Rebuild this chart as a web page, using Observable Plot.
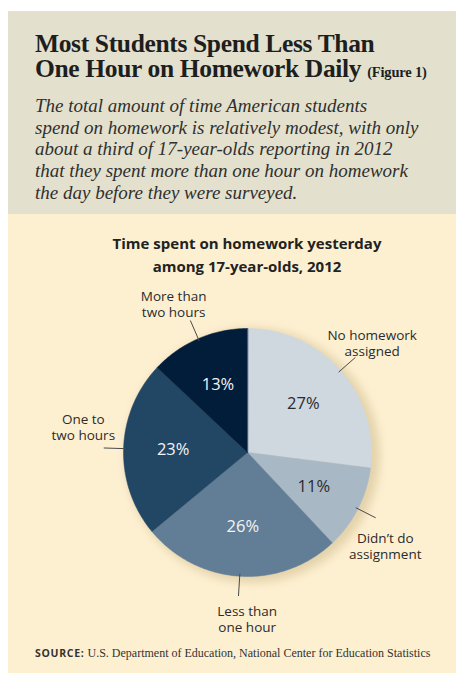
<!DOCTYPE html>
<html>
<head>
<meta charset="utf-8">
<script src="https://cdn.jsdelivr.net/npm/d3@7"></script>
<script src="https://cdn.jsdelivr.net/npm/@observablehq/plot@0.6"></script>
<style>
  html, body { margin: 0; padding: 0; background: #fff; }
  #page { position: relative; width: 456px; height: 673px; overflow: hidden; background: #fff; }
  #header { position: absolute; left: 8px; top: 11px; width: 448px; height: 203px; background: #e3e1cd; }
  #panel { position: absolute; left: 8px; top: 214px; width: 448px; height: 459px; background: #fdf0d1; }
  #title { position: absolute; left: 35px; top: 31px; width: 420px; font-family: "Liberation Serif", serif; font-weight: bold; font-size: 25.5px; letter-spacing: -0.35px; line-height: 25px; color: #1e1e1e; white-space: nowrap; }
  #title small { font-size: 14.5px; letter-spacing: -0.2px; }
  #subtitle { position: absolute; left: 35px; top: 95px; width: 420px; font-family: "Liberation Serif", serif; font-style: italic; font-size: 19px; line-height: 21.7px; color: #303030; white-space: nowrap; }
  #charttitle { position: absolute; left: 47px; width: 400px; top: 232px; text-align: center; font-family: "Open Sans", sans-serif; font-weight: 700; font-size: 15px; line-height: 23px; color: #222; }
  #chart { position: absolute; left: 0; top: 214px; }
  #source { position: absolute; left: 35px; top: 646px; font-family: "Liberation Serif", serif; font-size: 12px; color: #333; white-space: nowrap; }
  #source b { font-family: "Open Sans", sans-serif; font-weight: 700; font-size: 10.5px; letter-spacing: 0.7px; }
</style>
</head>
<body>
<div id="page">
  <div id="header"></div>
  <div id="panel"></div>
  <div id="title">Most Students Spend Less Than<br>One Hour on Homework Daily <small>(Figure 1)</small></div>
  <div id="subtitle">The total amount of time American students<br>spend on homework is relatively modest, with only<br>about a third of 17-year-olds reporting in 2012<br>that they spent more than one hour on homework<br>the day before they were surveyed.</div>
  <div id="charttitle">Time spent on homework yesterday<br>among 17-year-olds, 2012</div>
  <div id="chart"></div>
  <div id="source"><b>SOURCE:</b> U.S. Department of Education, National Center for Education Statistics</div>
</div>
<script>
// ---- data ----
const categories = ["No homework assigned", "Didn't do assignment", "Less than one hour", "One to two hours", "More than two hours"];
const labels = ["No homework\nassigned", "Didn’t do\nassignment", "Less than\none hour", "One to\ntwo hours", "More than\ntwo hours"];
const shares = [27, 11, 26, 23, 13];
const colors = ["#cfd7df", "#a9b8c5", "#627e96", "#224764", "#021d3a"];
const pctColors = ["#2a2a2a", "#2a2a2a", "#f2f4f6", "#f2f4f6", "#f2f4f6"];

// ---- layout ----
const W = 456, H = 459, TOP = 214;
const cx = 247, cy = 452, R = 124;
// small angular nudges (degrees) for the outside labels, layout only
const labelShift = [0, 7, -3.5, 7, -3];

const arcs = d3.pie().sort(null).value(d => d.share).startAngle(0).endAngle(2 * Math.PI)(
  categories.map((c, i) => ({cat: c, share: shares[i], label: labels[i], pct: pctColors[i], shift: labelShift[i]}))
);
const pt = (a, r) => ({x: cx + r * Math.sin(a), y: cy - r * Math.cos(a)});

const polys = [];
for (const a of arcs) {
  polys.push({cat: a.data.cat, ...pt(0, 0)});
  const n = Math.max(2, Math.ceil((a.endAngle - a.startAngle) / (Math.PI / 180)));
  for (let k = 0; k <= n; k++) {
    const ang = a.startAngle + (a.endAngle - a.startAngle) * k / n;
    polys.push({cat: a.data.cat, ...pt(ang, R)});
  }
}
const mids = arcs.map(a => {
  const m = (a.startAngle + a.endAngle) / 2;
  const ml = m + a.data.shift * Math.PI / 180;
  return {...a.data, m,
    p: pt(m, R * 0.6),
    l: pt(ml, R * 1.34),
    s0: pt(m, R * 0.98),
    s1: pt(m, R * 1.16)};
});

const chart = Plot.plot({
  width: W, height: H,
  margin: 0,
  x: {domain: [0, W], range: [0, W], axis: null},
  y: {domain: [TOP, TOP + H], range: [0, H], axis: null},
  color: {domain: categories, range: colors},
  style: {background: "transparent", overflow: "visible"},
  marks: [
    Plot.dot([{x: cx, y: cy}], {x: "x", y: "y", r: R + 3, fill: "#cdb98a", fillOpacity: 0.55, dx: 5, dy: 3, stroke: null}),
    Plot.line(polys, {x: "x", y: "y", z: "cat", fill: "cat", stroke: "cat", strokeWidth: 0.5, curve: "linear-closed"}),
    Plot.link(mids, {x1: d => d.s0.x, y1: d => d.s0.y, x2: d => d.s1.x, y2: d => d.s1.y, stroke: "#4a4a4a", strokeWidth: 1}),
    Plot.text(mids, {x: d => d.l.x, y: d => d.l.y, text: "label", fontFamily: "Open Sans, sans-serif", fontSize: 13.5, lineHeight: 1.2, lineAnchor: "middle", fill: "#2b2b2b"}),
    Plot.text(mids, {x: d => d.p.x, y: d => d.p.y, text: d => d.share + "%", fontFamily: "Open Sans, sans-serif", fontSize: 16.5, lineAnchor: "middle", fill: "pct"})
  ]
});
// soft drop shadow behind the pie
d3.select(chart).select('g[aria-label="dot"]').style("filter", "blur(5px)");
document.getElementById("chart").appendChild(chart);
</script>
</body>
</html>
